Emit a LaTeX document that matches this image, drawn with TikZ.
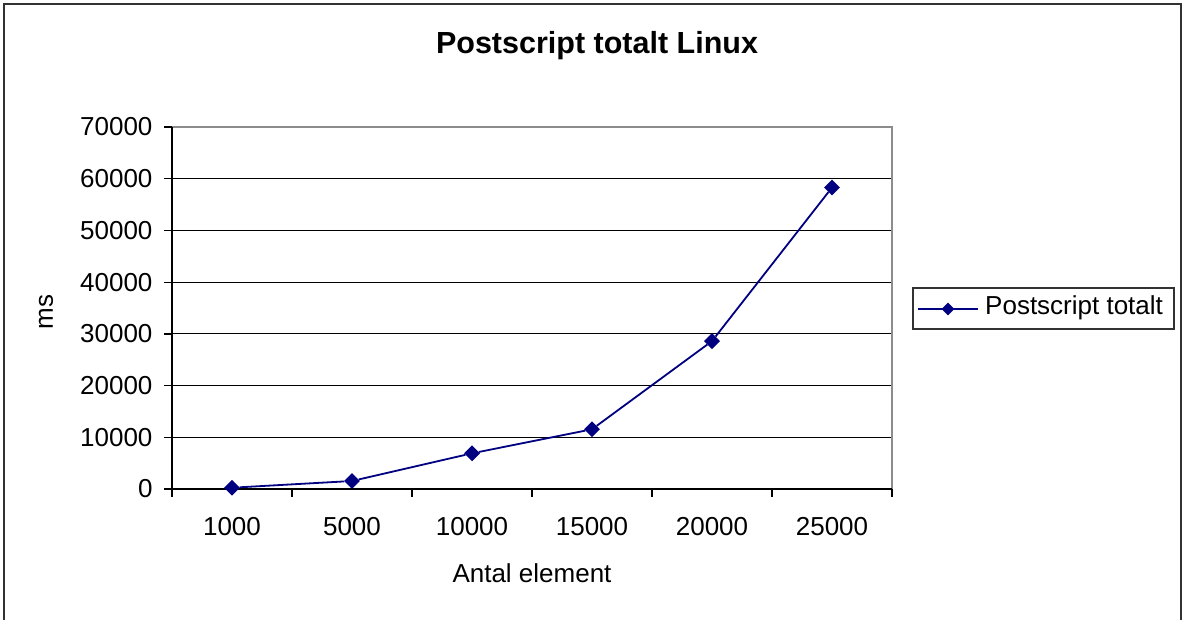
\documentclass[tikz,border=0pt]{standalone}
\usepackage{fontspec}
\setmainfont{Liberation Sans}
\usetikzlibrary{shapes.geometric}
\definecolor{seriesnavy}{RGB}{0,0,128}
\definecolor{framegray}{RGB}{50,50,50}
\definecolor{bordergray}{RGB}{140,140,140}
\tikzset{
  gridline/.style={black, line width=1.1pt},
  axisline/.style={black, line width=1.3pt},
  labelfont/.style={font=\fontsize{26}{26}\selectfont},
  datamark/.style={diamond, fill=seriesnavy, inner sep=0pt, minimum size=16pt},
  seriesline/.style={seriesnavy, line width=1.8pt},
}
\begin{document}
\begin{tikzpicture}[x=1pt, y=-1pt]
	\useasboundingbox (0,0) rectangle (1182,619);
	% chart frame
	\draw[framegray, line width=2pt] (4,630) -- (4,4) -- (1181,4) -- (1181,630);
	\node[font=\bfseries\fontsize{30.5}{30.5}\selectfont] (title) at (597,46) {Postscript totalt Linux};

	% plot area
	\def\plotL{172}
	\def\plotR{892}
	\def\plotT{127}
	\def\plotB{489}
	\def\gap{51.714}
	\foreach \k in {1,...,6} {
		\draw[gridline] (\plotL,{\plotB-\k*\gap}) -- (\plotR,{\plotB-\k*\gap});
	}
	\draw[bordergray, line width=1.3pt] (\plotL,\plotT) -- (\plotR,\plotT) -- (\plotR,\plotB);
	\draw[axisline] (\plotL,\plotT) -- (\plotL,\plotB) -- (\plotR,\plotB);

	% y axis
	\foreach \k in {0,...,7} {
		\draw[axisline] (164,{\plotB-\k*\gap}) -- (\plotL,{\plotB-\k*\gap});
	}
	\node[labelfont, anchor=east] (y0) at (156,\plotB) {0};
	\foreach \k in {1,...,7} {
		\node[labelfont, anchor=east] (y\k) at (156,{\plotB-\k*\gap}) {\k0000};
	}
	\node[labelfont, rotate=90] (ytitle) at (46,312) {ms};

	% x axis
	\foreach \i in {0,...,6} {
		\draw[axisline] ({\plotL+\i*120},\plotB) -- ({\plotL+\i*120},497);
	}
	\foreach \n [count=\i from 0] in {1000,5000,10000,15000,20000,25000} {
		\node[labelfont] (x\i) at ({232+\i*120},527) {\n};
	}
	\node[labelfont] (xtitle) at (532,573) {Antal element};

	% data, values in units of 10000 ms
	\foreach \v [count=\i] in {0.025,0.155,0.69,1.155,2.86,5.83} {
		\node[datamark] (p\i) at ({112+\i*120},{\plotB-\v*\gap}) {};
	}
	\draw[seriesline] (p1) -- (p2) -- (p3) -- (p4) -- (p5) -- (p6);

	% legend
	\node[draw=framegray, line width=1.1pt, minimum width=261pt, minimum height=41pt] (legend) at (1043.5,308.5) {};
	\coordinate (legL) at (918,309);
	\coordinate (legR) at (978,309);
	\draw[seriesline] (legL) -- (legR);
	\node[datamark, minimum size=13pt] (legmark) at (948,309) {};
	\node[labelfont, anchor=west, inner sep=0pt] (legtext) at (985,308) {Postscript totalt};
\end{tikzpicture}
\end{document}
